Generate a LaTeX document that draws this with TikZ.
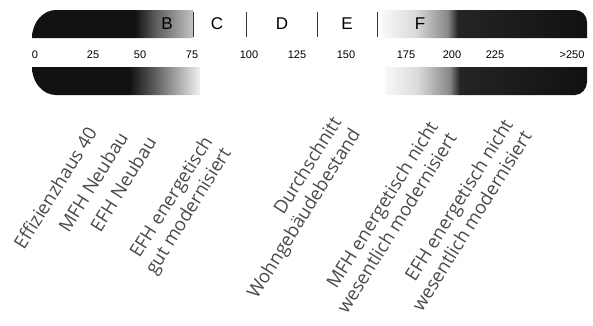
\documentclass[tikz,border=0pt]{standalone}
\usepackage{fontspec}
\setmainfont{Open Sans}
\newfontfamily\classfont{Liberation Sans}
\definecolor{cdark}{HTML}{111111}
\definecolor{cline}{HTML}{333333}
\definecolor{ctext}{HTML}{4A4A4A}
\pgfdeclarehorizontalshading{fadetop}{100bp}{color(0bp)=(cdark); color(25bp)=(cdark); color(57bp)=(cdark); color(63bp)=(cdark!70); color(75bp)=(cdark!25); color(100bp)=(cdark!25)}
\pgfdeclarehorizontalshading{fadelow}{100bp}{color(0bp)=(cdark); color(25bp)=(cdark); color(54bp)=(cdark); color(61bp)=(cdark!70); color(75bp)=(cdark!6); color(100bp)=(cdark!6)}
\pgfdeclarehorizontalshading{faderight}{100bp}{color(0bp)=(cdark!3); color(25bp)=(cdark!3); color(33bp)=(cdark!15); color(41bp)=(cdark!50); color(43.5bp)=(cdark!92); color(75bp)=(cdark); color(100bp)=(cdark)}
\tikzset{
  every picture/.style={line width=1pt},
  cls/.style={font=\classfont\fontsize{17}{20}\selectfont, text=black, inner sep=0pt},
  num/.style={font=\classfont\fontsize{11}{12}\selectfont, text=black, inner sep=0pt},
  lab/.style={font=\fontsize{18.5}{22}\selectfont, text=ctext, rotate=58, align=right, inner sep=0pt},
  divider/.style={draw=cline, line width=1pt},
}

\begin{document}
\begin{tikzpicture}[x=1pt, y=1pt]
  \useasboundingbox (0,0) rectangle (593,325);
  \shade[shading=fadetop] (193,287) -- (32,287) .. controls (32,302.5) and (42.8,315) .. (56,315) -- (193,315) -- cycle;
  \shade[shading=fadelow] (200,258) -- (32,258) .. controls (32,242.5) and (42.8,230) .. (56,230) -- (200,230) -- cycle;
  \shade[shading=faderight] (382,287) -- (382,315) -- (575,315) .. controls (581.6,315) and (587,309.6) .. (587,303) -- (587,287) -- cycle;
  \shade[shading=faderight] (385,258) -- (587,258) -- (587,243) .. controls (587,236.4) and (581.6,230) .. (575,230) -- (385,230) -- cycle;
  \draw[divider] (193,288) -- (193,313);
  \draw[divider] (246,288) -- (246,313);
  \draw[divider] (317,288) -- (317,313);
  \draw[divider] (377,288) -- (377,313);
  \node[cls] (clsB) at (167,301) {B};
  \node[cls] (clsC) at (217,301) {C};
  \node[cls] (clsD) at (282,301) {D};
  \node[cls] (clsE) at (347,301) {E};
  \node[cls] (clsF) at (420,301) {F};
  \node[num] (n0) at (35,270) {0};
  \node[num] (n25) at (93,270) {25};
  \node[num] (n50) at (140,270) {50};
  \node[num] (n75) at (192,270) {75};
  \node[num] (n100) at (249,270) {100};
  \node[num] (n125) at (297,270) {125};
  \node[num] (n150) at (346,270) {150};
  \node[num] (n175) at (406,270) {175};
  \node[num] (n200) at (452,270) {200};
  \node[num] (n225) at (495,270) {225};
  \node[num] (n250) at (572,270) {>250};
  \node[lab] (effhaus) at (55,137) {Effizienzhaus 40};
  \node[lab] (mfhneu) at (93,143) {MFH Neubau};
  \node[lab] (efhneu) at (123,141) {EFH Neubau};
  \node[lab] (efhgut) at (180,119) {EFH energetisch\\gut modernisiert};
  \node[lab] (schnitt) at (295.5,116.5) {Durchschnitt\\Wohngebäudebestand};
  \node[lab] (mfhalt) at (387,108) {MFH energetisch nicht\\wesentlich modernisiert};
  \node[lab] (efhalt) at (462,110) {EFH energetisch nicht\\wesentlich modernisiert};
\end{tikzpicture}
\end{document}
